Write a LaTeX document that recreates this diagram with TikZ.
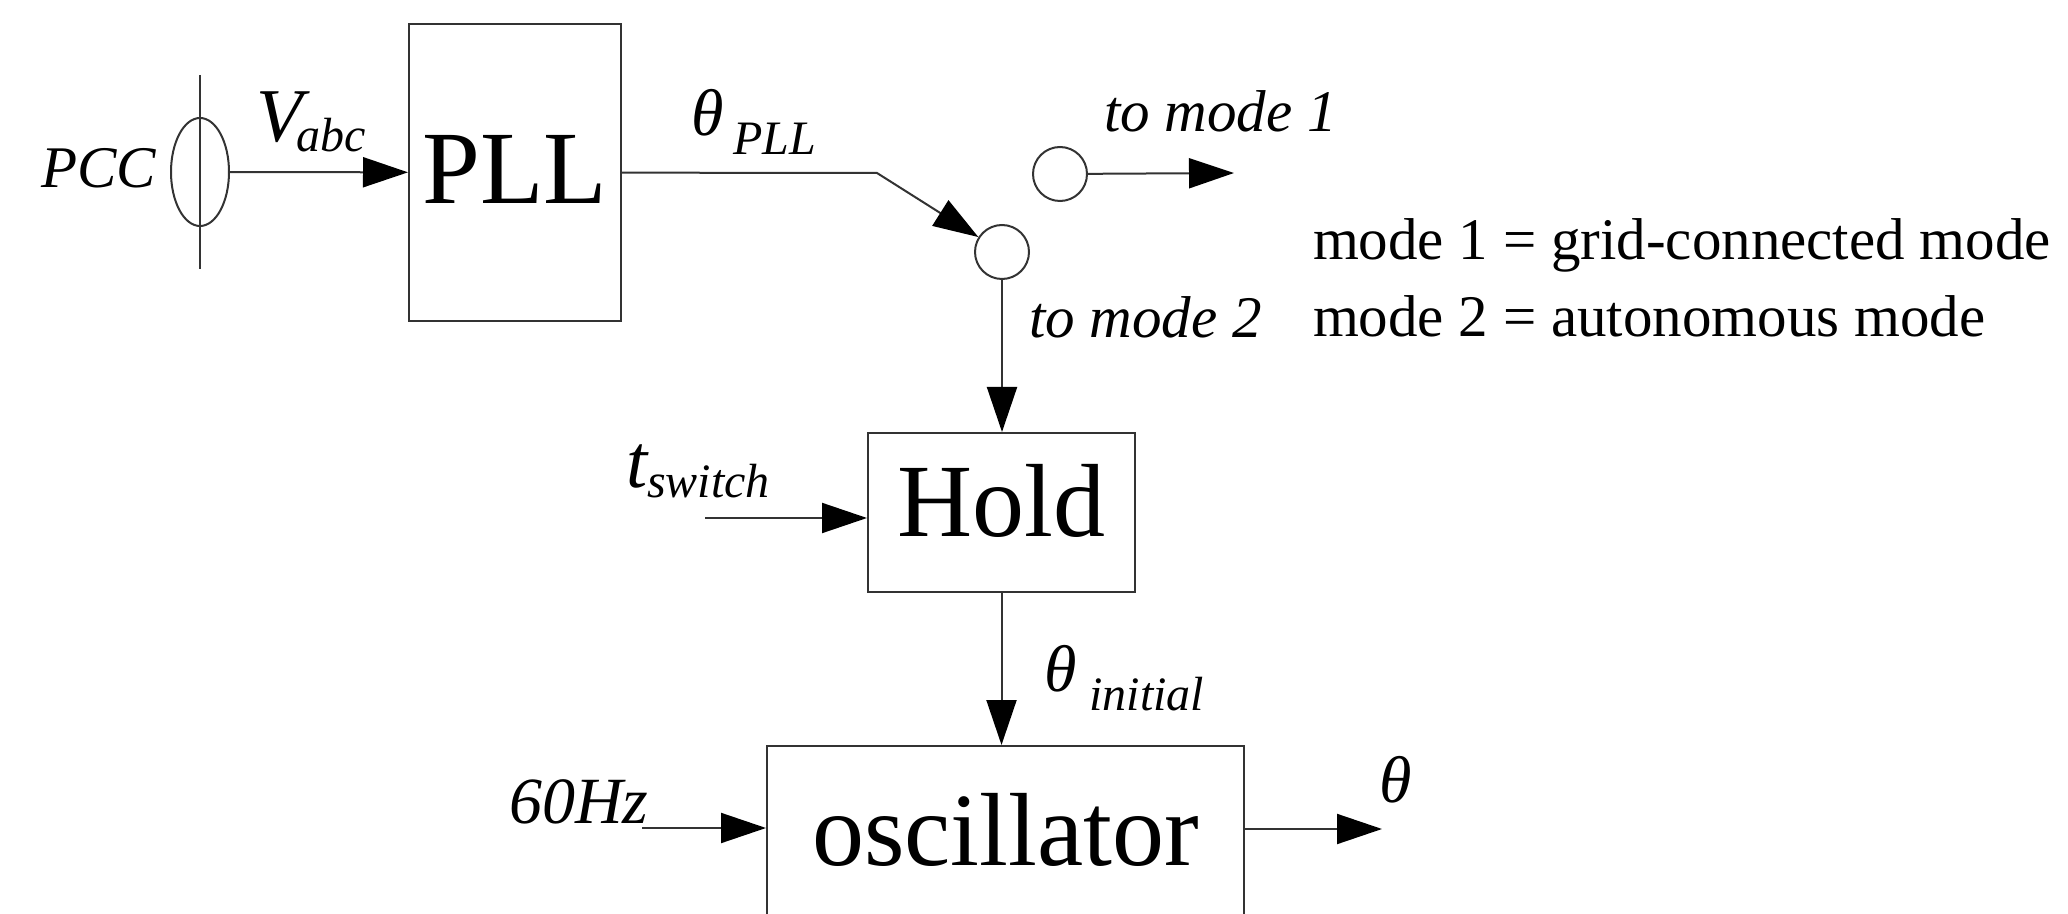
\documentclass[tikz,border=0pt]{standalone}
\usepackage{fontspec}
\setmainfont{Liberation Serif}
\usepackage{tikz}
\usetikzlibrary{arrows.meta, shapes.geometric}
\newcommand\lineColor{black!80}
\newcommand\blockFont{\fontsize{52}{60}\selectfont}
\newcommand\labelFont{\fontsize{29.5}{34}\selectfont}
\newcommand\symFont{\fontsize{33}{38}\selectfont\itshape}
\newcommand\bigSymFont{\fontsize{38}{44}\selectfont\itshape}
\newcommand\subFont{\fontsize{24}{28}\selectfont\itshape}
\newcommand\tipLen{22.5pt}
\newcommand\tipWid{15pt}
\newcommand{\symSub}[4]{#1\hspace{#2}\raisebox{-#3}{\subFont #4}}

\begin{document}
\begin{tikzpicture}[x=0.5pt, y=-0.5pt, line width=1pt,
        block/.style={draw=\lineColor, rectangle, inner sep=0pt, font=\blockFont},
        port/.style={draw=\lineColor, circle, inner sep=0pt, minimum size=27pt},
        sig/.style={draw=\lineColor, -{Triangle[length=\tipLen, width=\tipWid, color=black]}},
        lbl/.style={inner sep=0pt, anchor=base west, font=\labelFont\itshape}]
    \useasboundingbox (0,0) rectangle (2068,914);
    \clip (0,0) rectangle (2068,914);

    % blocks
    \node[block, minimum width=106pt, minimum height=148.5pt, text depth=3pt] (pll) at (515,172.5) {PLL};
    \node[block, minimum width=133.5pt, minimum height=79.5pt, text depth=12pt] (hold) at (1001.5,512.5) {Hold};
    \node[block, minimum width=238.5pt, minimum height=100pt, text depth=16.5pt] (osc) at (1005.5,846) {oscillator};

    % measuring point and switch contacts
    \node[draw=\lineColor, ellipse, inner sep=0pt, minimum width=29pt, minimum height=54pt] (pcc) at (200,172) {};
    \node[port] (swa) at (1002,252) {};
    \node[port] (swb) at (1060,174) {};

    % labels
    \node[lbl, anchor=base east] (pcclbl) at (157,188) {PCC};
    \node[lbl] (vabc) at (255,142) {\symSub{{\bigSymFont V}}{-3pt}{5pt}{abc}};
    \node[lbl] (thpll) at (690,136) {\symSub{{\symFont θ}}{5pt}{9.5pt}{PLL}};
    \node[lbl] (tomode1) at (1103,132) {to mode 1};
    \node[lbl] (tomode2) at (1028,338) {to mode 2};
    \node[lbl, font=\labelFont] (key1) at (1312,260) {mode 1 = grid-connected mode};
    \node[lbl, font=\labelFont] (key2) at (1312,337) {mode 2 = autonomous mode};
    \node[lbl] (tsw) at (625,488) {\symSub{{\bigSymFont t}}{0pt}{5pt}{switch}};
    \node[lbl] (thinit) at (1043,691) {\symSub{{\symFont θ}}{6.5pt}{9.5pt}{initial}};
    \node[lbl, font=\symFont] (hz) at (508,823) {60Hz};
    \node[lbl, font=\symFont] (thlbl) at (1378,802) {θ};

    % free ends
    \coordinate (bend) at (877,173);
    \coordinate (out1) at (1234,173);
    \coordinate (tswin) at (705,518);
    \coordinate (hzin) at (642,828);
    \coordinate (thout) at (1382,829);

    % connectors
    \draw[draw=\lineColor] ([yshift=21pt]pcc.north) -- ([yshift=-21pt]pcc.south);
    \draw[sig] (pcc) -- (pll);
    \draw[sig] (pll) -- (bend) -- (swa);
    \draw[sig] (swb) -- (out1);
    \draw[sig] (swa) -- (swa |- hold.north);
    \draw[sig] (tswin) -- (tswin -| hold.west);
    \draw[sig] (hold) -- (hold |- osc.north);
    \draw[sig] (hzin) -- (hzin -| osc.west);
    \draw[sig] (thout -| osc.east) -- (thout);
\end{tikzpicture}
\end{document}
